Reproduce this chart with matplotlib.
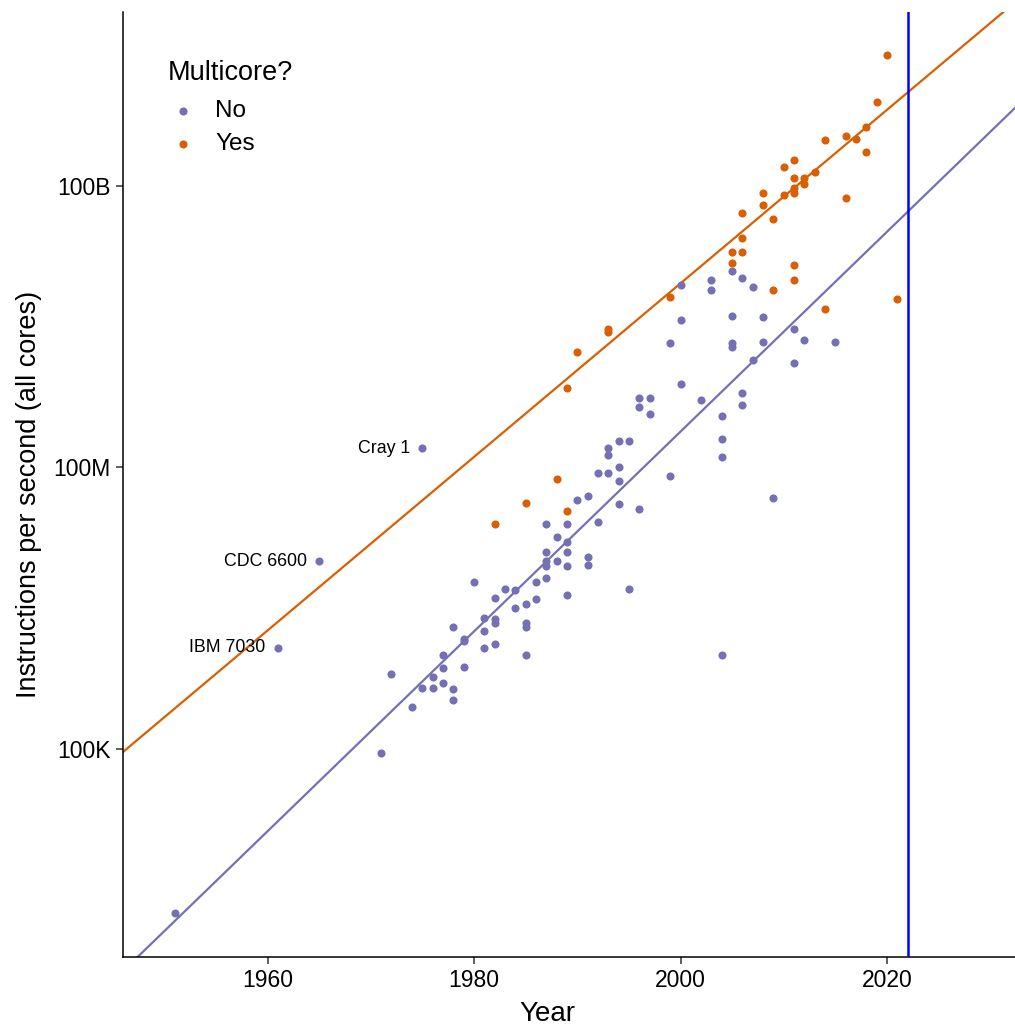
import numpy as np
import matplotlib
matplotlib.use('Agg')
import matplotlib.pyplot as plt

plt.rcParams['font.family'] = ['Liberation Sans', 'DejaVu Sans']

# single-core machines (year, instructions per second)
no_year = [1951, 1961, 1965, 1971, 1972, 1974, 1975, 1975, 1976, 1976,
           1977, 1977, 1977, 1978, 1978, 1978, 1979, 1979, 1979, 1980,
           1981, 1981, 1981, 1982, 1982, 1982, 1982, 1983, 1984, 1984,
           1985, 1985, 1985, 1985, 1986, 1986, 1987, 1987, 1987, 1987,
           1987, 1988, 1988, 1989, 1989, 1989, 1989, 1989, 1990, 1991,
           1991, 1991, 1992, 1992, 1993, 1993, 1993, 1994, 1994, 1994,
           1994, 1995, 1995, 1996, 1996, 1996, 1997, 1997, 1999, 1999,
           2000, 2000, 2000, 2002, 2003, 2003, 2004, 2004, 2004, 2004,
           2005, 2005, 2005, 2005, 2006, 2006, 2006, 2007, 2007, 2008,
           2008, 2009, 2011, 2011, 2012, 2015]
no_ips = [1.8e3, 1.2e6, 1.0e7, 9.1e4, 6.3e5, 2.8e5, 4.4e5, 1.6e8, 5.8e5, 4.4e5,
          1.0e6, 7.2e5, 5.0e5, 2.0e6, 4.3e5, 3.3e5, 1.5e6, 1.4e6, 7.5e5, 6.0e6,
          2.5e6, 1.8e6, 1.2e6, 4.1e6, 2.4e6, 2.2e6, 1.3e6, 5.0e6, 4.9e6, 3.2e6,
          3.5e6, 2.2e6, 2.0e6, 1.0e6, 6.0e6, 4.0e6, 2.5e7, 1.26e7, 1.0e7, 8.9e6,
          6.6e6, 1.8e7, 1.0e7, 2.5e7, 1.6e7, 1.26e7, 8.9e6, 4.4e6, 4.5e7, 5.0e7,
          1.1e7, 9.1e6, 8.7e7, 2.6e7, 1.6e8, 1.35e8, 8.7e7, 1.9e8, 1.0e8, 7.1e7,
          4.1e7, 1.9e8, 5.0e6, 5.5e8, 4.4e8, 3.6e7, 5.5e8, 3.7e8, 2.1e9, 8.1e7,
          8.9e9, 3.7e9, 7.8e8, 5.2e8, 1.0e10, 7.8e9, 3.5e8, 2.0e8, 1.3e8, 1.0e6,
          1.23e10, 4.1e9, 2.1e9, 1.9e9, 1.05e10, 6.2e8, 4.6e8, 8.3e9, 1.4e9, 4.0e9,
          2.2e9, 4.7e7, 3.0e9, 1.3e9, 2.3e9, 2.2e9]

# multicore machines
yes_year = [1982, 1985, 1988, 1989, 1989, 1990, 1993, 1993, 1999, 2005,
            2005, 2006, 2006, 2006, 2008, 2008, 2009, 2009, 2010, 2010,
            2011, 2011, 2011, 2011, 2011, 2011, 2012, 2012, 2013, 2014,
            2014, 2016, 2016, 2017, 2018, 2018, 2019, 2020, 2021]
yes_ips = [2.5e7, 4.2e7, 7.6e7, 3.4e7, 7.1e8, 1.7e9, 3.0e9, 2.75e9, 6.6e9, 2.0e10,
           1.5e10, 5.1e10, 2.8e10, 2.0e10, 8.5e10, 6.2e10, 4.5e10, 7.8e9, 1.6e11, 8.1e10,
           1.9e11, 1.23e11, 9.5e10, 8.5e10, 1.45e10, 1.0e10, 1.23e11, 1.05e11, 1.4e11, 3.1e11,
           4.9e9, 3.4e11, 7.4e10, 3.2e11, 4.3e11, 2.3e11, 7.8e11, 2.5e12, 6.2e9]

labelled = {'IBM 7030': (1961, 1.2e6), 'CDC 6600': (1965, 1.0e7), 'Cray 1': (1975, 1.6e8)}

# trend lines as drawn: log10(ips) = at_2000 + slope * (year - 2000)
trend_no = {'slope': 0.1065, 'at_2000': 8.382}
trend_yes = {'slope': 0.0925, 'at_2000': 9.962}

purple = '#7570B3'
orange = '#D95F02'

fig = plt.figure(figsize=(10.15, 10.26), dpi=100)
ax = fig.add_axes([0.1212, 0.0673, 0.8788, 0.921])

xmin, xmax = 1946.0, 2032.4
xs = np.array([xmin, xmax])

for tr, col in [(trend_no, purple), (trend_yes, orange)]:
    ax.plot(xs, 10 ** (tr['at_2000'] + tr['slope'] * (xs - 2000)), color=col, lw=1.6, zorder=2)

ax.scatter(no_year, no_ips, s=34, color=purple, lw=0, label='No', zorder=3)
ax.scatter(yes_year, yes_ips, s=34, color=orange, lw=0, label='Yes', zorder=3)

ax.axvline(2022, color='blue', lw=1.8, zorder=4)

for name, (yr, v) in labelled.items():
    ax.annotate(name, (yr, v), xytext=(-9, 0), textcoords='offset points',
                ha='right', va='center', fontsize=12.8)

ax.set_yscale('log')
ax.set_xlim(xmin, xmax)
ax.set_ylim(605, 7.16e12)
ax.set_yticks([1e5, 1e8, 1e11])
ax.set_yticklabels(['100K', '100M', '100B'])
ax.yaxis.set_minor_locator(matplotlib.ticker.NullLocator())
ax.set_xticks([1960, 1980, 2000, 2020])

for s in ['top', 'right']:
    ax.spines[s].set_visible(False)
for s in ['left', 'bottom']:
    ax.spines[s].set_linewidth(1.1)
ax.tick_params(length=5, width=1.1, color='#333333', labelsize=16.5, pad=4)

ax.set_xlabel('Year', fontsize=20)
ax.set_ylabel('Instructions per second (all cores)', fontsize=19.5)
ax.xaxis.set_label_coords(0.476, -0.047)
ax.yaxis.set_label_coords(-0.091, 0.489)

leg = ax.legend(title='Multicore?', loc='upper left', bbox_to_anchor=(0.05, 0.949),
                frameon=False, fontsize=17.5, title_fontsize=19.5, borderpad=0,
                borderaxespad=0, handlelength=1.25, handletextpad=0.7,
                labelspacing=0.45, alignment='left', scatterpoints=1)
leg._legend_box.sep = 10

fig.savefig('out.png', dpi=100)
